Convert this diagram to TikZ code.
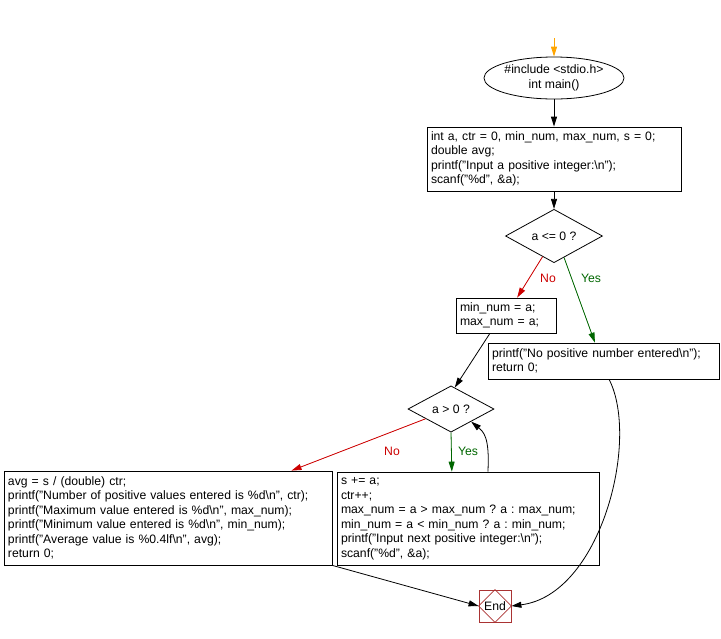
\documentclass[tikz,border=0pt]{standalone}
\usepackage{fontspec}
\setmainfont{Liberation Sans}
\usetikzlibrary{shapes.geometric,arrows.meta}
\definecolor{noRed}{RGB}{204,0,0}
\definecolor{yesGreen}{RGB}{0,102,0}
\definecolor{endRed}{RGB}{170,51,51}
\definecolor{startOrange}{RGB}{255,165,0}
\frenchspacing

\begin{document}
\begin{tikzpicture}[x=1pt, y=-1pt, >={Triangle[length=10pt,width=6pt]}, line width=0.8pt,
		every node/.style={font=\fontsize{12.2}{14.5}\selectfont},
		codebox/.style={draw, rectangle, align=left, inner xsep=4pt, inner ysep=0pt},
		testbox/.style={draw, diamond, inner sep=0pt},
		flow/.style={->},
		nolink/.style={->, draw=noRed, fill=noRed},
		yeslink/.style={->, draw=yesGreen, fill=yesGreen}]
	
	\useasboundingbox (0,0) rectangle (721,638);
	
	% ==================== 开始 ====================
	\coordinate (top) at (554,38);
	\node[draw, ellipse, minimum width=132, minimum height=42, inner sep=0pt, align=center] (main) at (554,78) {\#include <stdio.h>\\int main()};
	
	% 初始化
	\node[codebox, text width=246pt, minimum height=64] (init) at (554,159)
	{int a, ctr = 0, min\_num, max\_num, s = 0;\\double avg;\\printf("Input a positive integer:\textbackslash n");\\scanf("\%d", \&a);};
	
	% ==================== 第一个判断 ====================
	\node[testbox, minimum width=97, minimum height=43] (firstcheck) at (554,236) {a <= 0 ?};
	
	\node[codebox, text width=92pt, minimum height=35] (minmax) at (506,315.5)
	{min\_num = a;\\max\_num = a;};
	\node[codebox, text width=223pt, minimum height=36] (nopos) at (603.5,361)
	{printf("No positive number entered\textbackslash n");\\return 0;};
	
	% ==================== 循环 ====================
	\node[testbox, minimum width=86, minimum height=40] (loopcheck) at (451,409) {a > 0 ?};
	
	\node[codebox, text width=254pt, minimum height=93] (update) at (468,518.5)
	{s += a;\\ctr++;\\max\_num = a > max\_num ? a : max\_num;\\min\_num = a < min\_num ? a : min\_num;\\printf("Input next positive integer:\textbackslash n");\\scanf("\%d", \&a);};
	\node[codebox, text width=320pt, minimum height=94] (result) at (168,518)
	{avg = s / (double) ctr;\\printf("Number of positive values entered is \%d\textbackslash n", ctr);\\printf("Maximum value entered is \%d\textbackslash n", max\_num);\\printf("Minimum value entered is \%d\textbackslash n", min\_num);\\printf("Average value is \%0.4lf\textbackslash n", avg);\\return 0;};
	
	% ==================== 结束 ====================
	\node[draw=endRed, rectangle, minimum size=32, inner sep=0pt] (end) at (495,606) {End};
	\draw[endRed] (end.north) -- (end.east) -- (end.south) -- (end.west) -- cycle;
	
	% 标签
	\node[text=noRed] (nolabel1) at (548,278) {No};
	\node[text=yesGreen] (yeslabel1) at (591,278) {Yes};
	\node[text=noRed] (nolabel2) at (392,451) {No};
	\node[text=yesGreen] (yeslabel2) at (468,451) {Yes};
	
	% 连线
	\draw[->, draw=startOrange, fill=startOrange] (top) -- (main.north);
	\draw[flow] (main.south) -- (init.north);
	\draw[flow] (init.south) -- (firstcheck.north);
	\draw[nolink] (firstcheck.-119) -- (minmax.58);
	\draw[yeslink] (firstcheck.-65) -- (nopos.115);
	\draw[flow] (minmax.-132) -- (loopcheck.80);
	\draw[nolink] (loopcheck.-159) -- (result.21);
	\draw[yeslink] (loopcheck.south) -- (update.109);
	\draw[flow] (update.67) .. controls +(2,-35) and +(12,10) .. (loopcheck.-32);
	\draw[flow] (nopos.-73) .. controls +(31,61) and +(89,-11) .. (end.east);
	\draw[flow] (result.south east) -- (end.west);
	
\end{tikzpicture}
\end{document}
